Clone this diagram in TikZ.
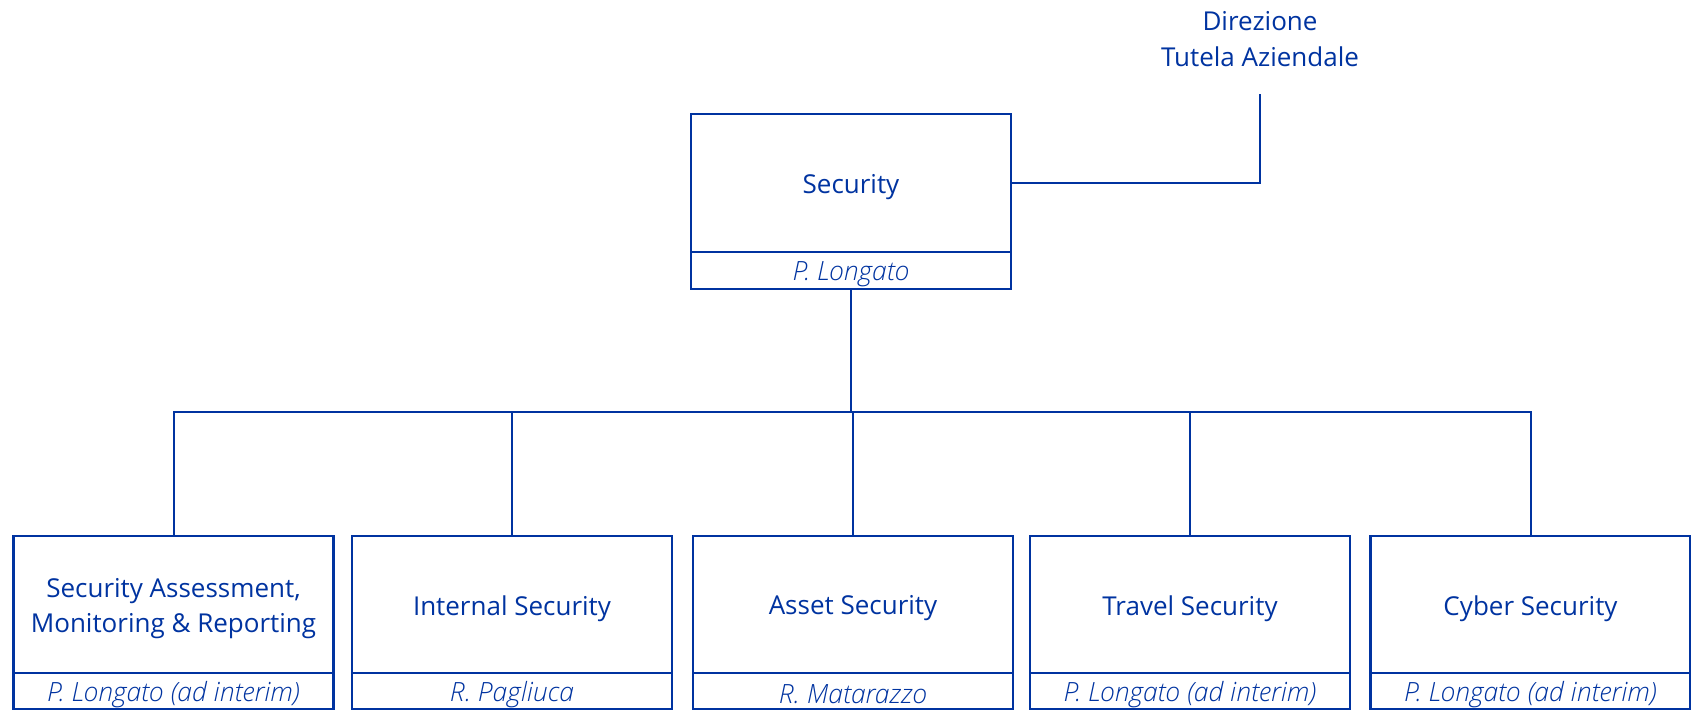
\documentclass[tikz,border=0pt]{standalone}
\usepackage{fontspec}
\setmainfont{Open Sans}
\newfontface\lightit{Open Sans Light Italic}
\definecolor{dblue}{HTML}{0033A0}
\begin{document}
\begin{tikzpicture}[x=1pt,y=-1pt,
  mainbox/.style={draw=dblue, line width=2.5pt, minimum width=320pt, minimum height=137pt, inner sep=0pt},
  namebox/.style={draw=dblue, line width=2.5pt, minimum width=320pt, minimum height=36pt, inner sep=0pt},
  mtext/.style={yshift=-4pt, align=center, text=dblue, inner sep=0pt, font=\fontsize{26}{35.5}\selectfont},
  ntext/.style={yshift=-3.5pt, text=dblue, inner sep=0pt, font=\lightit\fontsize{26.5}{30}\selectfont},
  conn/.style={draw=dblue, line width=2pt},
  lbl/.style={align=center, text=dblue, font=\fontsize{26}{35.5}\selectfont, inner sep=0pt}
]
\useasboundingbox (0,0) rectangle (1691,714);
% top box
\node[mainbox, minimum height=138pt, label={[mtext]center:Security}] (sec) at (851,183) {};
\node[namebox, minimum height=37pt, label={[ntext]center:P. Longato}] (secn) at (851,270.5) {};
% direzione
\node[lbl] (dir) at (1260,39) {Direzione\\Tutela Aziendale};
\coordinate (dirend) at (1260,94);
\coordinate (bus) at (851,412);
% children
\node[mainbox, label={[mtext]center:Security Assessment,\\Monitoring \& Reporting}] (c1) at (173.5,604.5) {};
\node[namebox, label={[ntext]center:P. Longato (ad interim)}] (c1n) at (173.5,691) {};
\node[mainbox, label={[mtext]center:Internal Security}] (c2) at (512,604.5) {};
\node[namebox, label={[ntext]center:R. Pagliuca}] (c2n) at (512,691) {};
\node[mainbox, label={[mtext]center:Asset Security}] (c3) at (853,604.5) {};
\node[namebox, label={[ntext]center:R. Matarazzo}] (c3n) at (853,691) {};
\node[mainbox, label={[mtext]center:Travel Security}] (c4) at (1190,604.5) {};
\node[namebox, label={[ntext]center:P. Longato (ad interim)}] (c4n) at (1190,691) {};
\node[mainbox, label={[mtext]center:Cyber Security}] (c5) at (1530.5,604.5) {};
\node[namebox, label={[ntext]center:P. Longato (ad interim)}] (c5n) at (1530.5,691) {};
% connectors
\draw[conn] (sec.east) -| (dirend);
\draw[conn] (secn.south) -- (secn.south |- bus);
\draw[conn] (c1.north) -- (c1.north |- bus) -- (c5.north |- bus) -- (c5.north);
\foreach \n in {c2,c3,c4} \draw[conn] (\n.north) -- (\n.north |- bus);
\end{tikzpicture}
\end{document}
